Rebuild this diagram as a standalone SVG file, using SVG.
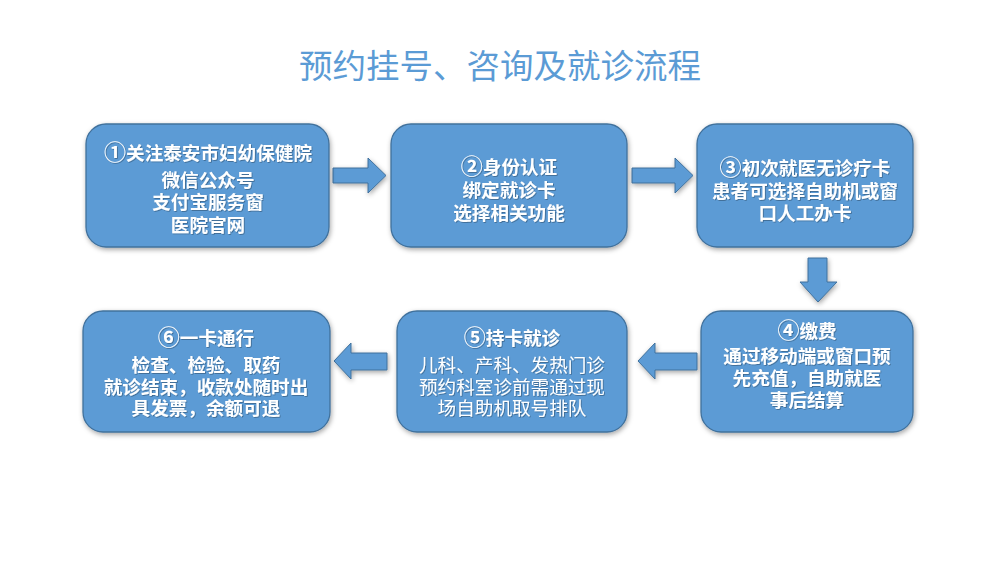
<svg xmlns="http://www.w3.org/2000/svg" width="1000" height="563" viewBox="0 0 1000 563">
<defs>
<filter id="sh" x="-10%" y="-10%" width="120%" height="125%">
<feDropShadow dx="1" dy="2" stdDeviation="2.5" flood-color="#000" flood-opacity="0.35"/>
</filter>
<filter id="ts" x="-5%" y="-20%" width="110%" height="140%">
<feDropShadow dx="0.8" dy="0.8" stdDeviation="0.6" flood-color="#000" flood-opacity="0.35"/>
</filter>
</defs>
<style>
.box{fill:#5B9BD5;stroke:#41719C;stroke-width:1.3;filter:url(#sh)}
.arr{fill:#5B9BD5;stroke:#41719C;stroke-width:1;filter:url(#sh)}
.t{font-family:"Liberation Sans","Noto Sans CJK SC",sans-serif;font-size:18.6px;font-weight:bold;fill:#fff;text-anchor:middle;filter:url(#ts)}
.n{font-weight:normal;font-size:18.6px}
.c{font-size:22px}
.title{font-family:"Liberation Sans","Noto Sans CJK SC",sans-serif;font-size:33.5px;fill:#5B9BD5;text-anchor:middle}
</style>
<rect width="1000" height="563" fill="#fff"/>
<text class="title" x="500" y="78">预约挂号、咨询及就诊流程</text>
<g id="connectors">
<path class="arr" d="M333,168 H368 V158 L386,175.5 L368,193 V183 H333 Z"/>
<path class="arr" d="M632,168 H675 V158 L693,175.5 L675,193 V183 H632 Z"/>
<path class="arr" d="M808,258 H827 V282 H837 L818,302 L800,282 H808 Z"/>
<path class="arr" d="M697,353 H655 V343 L638,361 L655,379 V370 H697 Z"/>
<path class="arr" d="M387,353 H351 V343 L334,361 L351,379 V370 H387 Z"/>
</g>
<g id="node1">
<rect class="box" x="86" y="124" width="243" height="123" rx="20"/>
<text class="t" x="208" y="160"><tspan class="c">①</tspan>关注泰安市妇幼保健院</text>
<text class="t" x="208" y="187">微信公众号</text>
<text class="t" x="208" y="209">支付宝服务窗</text>
<text class="t" x="208" y="232">医院官网</text>
</g>
<g id="node2">
<rect class="box" x="391" y="124" width="236" height="123" rx="20"/>
<text class="t" x="509" y="174"><tspan class="c">②</tspan>身份认证</text>
<text class="t" x="509" y="197">绑定就诊卡</text>
<text class="t" x="509" y="220">选择相关功能</text>
</g>
<g id="node3">
<rect class="box" x="697" y="124" width="216" height="123" rx="20"/>
<text class="t" x="805" y="175"><tspan class="c">③</tspan>初次就医无诊疗卡</text>
<text class="t" x="805" y="198">患者可选择自助机或窗</text>
<text class="t" x="805" y="220">口人工办卡</text>
</g>
<g id="node4">
<rect class="box" x="701" y="311" width="212" height="121" rx="20"/>
<text class="t" x="807" y="338"><tspan class="c">④</tspan>缴费</text>
<text class="t" x="807" y="363">通过移动端或窗口预</text>
<text class="t" x="807" y="385">先充值，自助就医</text>
<text class="t" x="807" y="407">事后结算</text>
</g>
<g id="node5">
<rect class="box" x="397" y="311" width="230" height="121" rx="20"/>
<text class="t" x="512" y="345"><tspan class="c">⑤</tspan>持卡就诊</text>
<text class="t n" x="512" y="372">儿科、产科、发热门诊</text>
<text class="t n" x="512" y="394">预约科室诊前需通过现</text>
<text class="t n" x="512" y="415">场自助机取号排队</text>
</g>
<g id="node6">
<rect class="box" x="83" y="311" width="247" height="121" rx="20"/>
<text class="t" x="206" y="345"><tspan class="c">⑥</tspan>一卡通行</text>
<text class="t" x="206" y="372">检查、检验、取药</text>
<text class="t" x="206" y="394">就诊结束，收款处随时出</text>
<text class="t" x="206" y="415">具发票，余额可退</text>
</g>
</svg>
